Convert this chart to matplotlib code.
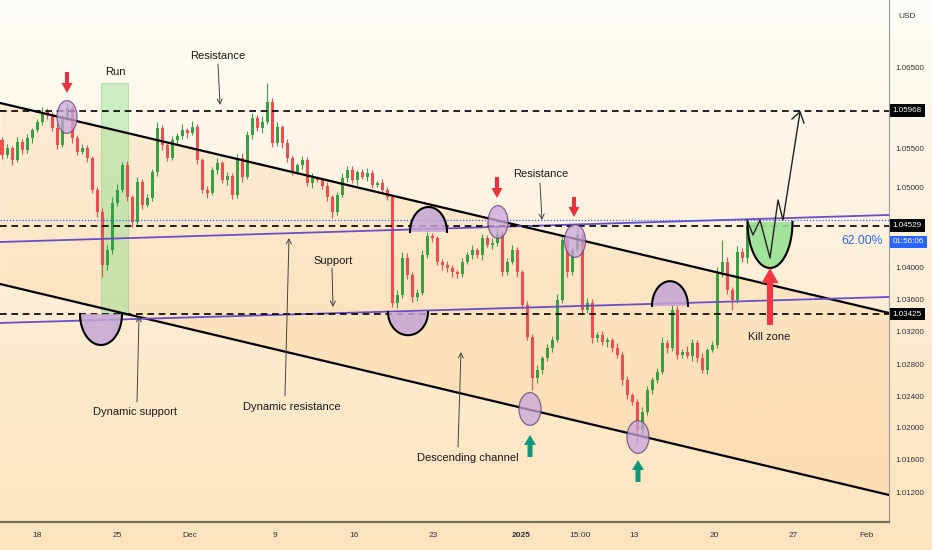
import numpy as np
import matplotlib
matplotlib.use('Agg')
import matplotlib.pyplot as plt
from matplotlib.patches import Rectangle, Ellipse, Polygon
from matplotlib.colors import LinearSegmentedColormap

plt.rcParams['font.family'] = ['Liberation Sans', 'DejaVu Sans']

# ---------------- data ----------------
open0 = 1.0560
closes = [
    1.05413, 1.0550, 1.0535, 1.05575, 1.05475, 1.05625, 1.05725, 1.05825, 1.0595, 1.05913,
    1.0575, 1.05538, 1.05875, 1.0600, 1.05625, 1.0545, 1.0550, 1.05375, 1.04975, 1.0470,
    1.04038, 1.04225, 1.04813, 1.04975, 1.05288, 1.04888, 1.04575, 1.05075, 1.04788, 1.04875,
    1.0520, 1.0575, 1.05538, 1.05375, 1.0560, 1.0565, 1.05725, 1.05688, 1.05763, 1.0535,
    1.04975, 1.04938, 1.05225, 1.05313, 1.0510, 1.0515, 1.04913, 1.05375, 1.05138, 1.05663,
    1.05875, 1.0575, 1.05825, 1.06075, 1.05563, 1.05763, 1.05563, 1.05375, 1.0520, 1.05288,
    1.0535, 1.05063, 1.05125, 1.0510, 1.05025, 1.04888, 1.0470, 1.04913, 1.05125, 1.05225,
    1.0510, 1.0520, 1.05138, 1.05188, 1.05038, 1.05063, 1.04975, 1.04888, 1.03563, 1.03663,
    1.04125, 1.03913, 1.03638, 1.03688, 1.04163, 1.0440, 1.04375, 1.04075, 1.04038, 1.0400,
    1.0395, 1.03925, 1.04075, 1.04163, 1.04225, 1.04163, 1.04375, 1.04288, 1.04313, 1.04425,
    1.0395, 1.04075, 1.04225, 1.0395, 1.03538, 1.03138, 1.02625, 1.02725, 1.02875, 1.0300,
    1.0310, 1.0360, 1.0435, 1.0395, 1.04225, 1.04413, 1.03475, 1.03563, 1.03125, 1.03163,
    1.03075, 1.0310, 1.0300, 1.02913, 1.0260, 1.02413, 1.02325, 1.01975, 1.0220, 1.02475,
    1.0260, 1.0270, 1.03063, 1.0300, 1.03475, 1.02913, 1.0295, 1.0290, 1.03063, 1.02875,
    1.02725, 1.02975, 1.03038, 1.0395, 1.04075, 1.03725, 1.0360, 1.0420, 1.04125, 1.04529,
]
# wick lengths in pips above / below the body
up_wick = [
    4, 5, 3, 6, 4, 5, 3, 4, 6, 5,
    4, 6, 5, 6, 3, 4, 5, 4, 3, 4,
    5, 6, 8, 7, 4, 5, 3, 6, 4, 5,
    4, 7, 4, 3, 5, 4, 8, 3, 7, 4,
    3, 5, 4, 6, 3, 5, 4, 5, 6, 5,
    6, 4, 7, 24, 5, 6, 3, 5, 4, 3,
    5, 4, 6, 3, 4, 5, 3, 4, 6, 5,
    5, 3, 4, 6, 4, 3, 5, 4, 3, 6,
    7, 6, 4, 5, 6, 5, 4, 3, 4, 5,
    4, 3, 5, 4, 6, 3, 5, 4, 6, 11,
    4, 5, 6, 4, 3, 5, 4, 6, 3, 5,
    5, 7, 6, 5, 4, 9, 4, 6, 5, 4,
    5, 4, 3, 6, 4, 5, 3, 4, 6, 5,
    4, 5, 8, 4, 6, 5, 4, 8, 5, 4,
    6, 3, 5, 6, 27, 6, 4, 8, 5, 4,
]
dn_wick = [
    5, 4, 6, 3, 5, 4, 6, 3, 4, 5,
    4, 5, 3, 4, 6, 4, 3, 5, 4, 6,
    15, 6, 5, 4, 3, 5, 6, 4, 5, 3,
    4, 5, 6, 4, 3, 5, 4, 6, 3, 5,
    4, 6, 3, 5, 4, 6, 5, 4, 6, 3,
    5, 4, 6, 3, 5, 4, 6, 5, 4, 3,
    5, 4, 6, 3, 4, 5, 8, 4, 3, 5,
    4, 6, 3, 5, 4, 3, 5, 4, 5, 6,
    4, 5, 6, 5, 3, 4, 5, 4, 6, 5,
    6, 5, 4, 3, 5, 4, 6, 3, 5, 4,
    5, 4, 3, 6, 5, 4, 15, 6, 5, 4,
    5, 3, 4, 6, 4, 3, 5, 4, 6, 5,
    4, 6, 5, 4, 6, 5, 4, 16, 5, 4,
    5, 4, 3, 6, 4, 5, 4, 3, 6, 5,
    4, 5, 3, 4, 6, 5, 12, 4, 5, 6,
]
x_tick_pos = [7.0, 23.0, 37.6, 54.6, 70.4, 86.2, 103.8, 115.6, 126.4, 142.4, 158.2, 173.0]
x_tick_labels = ['18', '25', 'Dec', '9', '16', '23', '2025', '15:00', '13', '20', '27', 'Feb']
y_ticks = [1.065, 1.055, 1.050, 1.040, 1.036, 1.032, 1.028, 1.024, 1.020, 1.016, 1.012]
level_high = 1.05968
level_mid = 1.04529
level_low = 1.03425
pct_text = '62.00%'
timer_text = '01:56:06'

# ---------------- figure / background ----------------
W, H = 932, 550
fig = plt.figure(figsize=(W / 100, H / 100), dpi=100)
bg = fig.add_axes([0, 0, 1, 1])
grad_cmap = LinearSegmentedColormap.from_list('bg', ['#fffdf8', '#fef4e4', '#fdeacd', '#fde4bf'])
bg.imshow(np.linspace(0, 1, 256).reshape(-1, 1), aspect='auto', cmap=grad_cmap,
          extent=[0, 1, 0, 1])
bg.set_axis_off()

ax = fig.add_axes([0, 28 / H, 889 / W, 522 / H])
ax.set_facecolor('none')
XMIN, XMAX = -0.4, 177.4
ax.set_xlim(XMIN, XMAX)
ax.set_ylim(1.00825, 1.0735)

# ---------------- channel ----------------
up_line = [1.06063, 1.03438]
lo_line = [1.03800, 1.01163]
ax.fill_between([XMIN, XMAX], lo_line, up_line, color='#f6a53c', alpha=0.13, lw=0, zorder=1)
ax.plot([XMIN, XMAX], up_line, color='black', lw=1.6, zorder=4)
ax.plot([XMIN, XMAX], lo_line, color='black', lw=1.6, zorder=4)

# purple dynamic lines
purple = '#6a4ec6'
ax.plot([XMIN, XMAX], [1.04325, 1.04663], color=purple, lw=1.3, zorder=4)
ax.plot([XMIN, XMAX], [1.03313, 1.03638], color=purple, lw=1.3, zorder=4)

# horizontal levels
dash = (0, (4, 2.8))
for lv in (level_high, level_mid, level_low):
    ax.axhline(lv, color='black', lw=1.2, ls=dash, zorder=4)
ax.axhline(1.04594, color='#2962ff', lw=0.9, ls=(0, (1, 1.5)), zorder=4)

# Run rectangle
ax.add_patch(Rectangle((19.8, 1.03413), 5.4, 0.029, facecolor='#8fe08f', alpha=0.45,
                       edgecolor='#6fcf6f', lw=0.8, zorder=2))

# ---------------- candles ----------------
opens = [open0] + closes[:-1]
idx = np.arange(len(closes))
o = np.array(opens)
c = np.array(closes)
hi = np.maximum(o, c) + np.array(up_wick) * 0.0001
lo = np.minimum(o, c) - np.array(dn_wick) * 0.0001
green, red = '#38a044', '#ef4d4f'
cols = [green if cc >= oo else red for oo, cc in zip(o, c)]
ax.vlines(idx, lo, hi, colors=cols, lw=0.8, zorder=3)
ax.bar(idx, np.maximum(np.abs(c - o), 0.00005), bottom=np.minimum(o, c), width=0.6,
       color=cols, lw=0, zorder=3)


# ---------------- shapes ----------------
def half_ellipse(cx, base, rx, ry, up, fc, alpha=0.85, edge='black'):
    t = np.linspace(0, np.pi, 80)
    s = 1 if up else -1
    xs = cx + rx * np.cos(t)
    ys = base + s * ry * np.sin(t)
    ax.add_patch(Polygon(np.column_stack([xs, ys]), closed=True, facecolor=fc,
                         alpha=alpha, lw=0, zorder=5))
    ax.plot(xs, ys, color=edge, lw=1.5, zorder=6)


semi_fc = '#c3a5d6'
half_ellipse(19.8, 1.03425, 4.2, 0.003875, False, semi_fc)
half_ellipse(81.2, 1.03450, 4.0, 0.0029, False, semi_fc)
half_ellipse(85.3, 1.04450, 3.7, 0.003125, True, semi_fc)
half_ellipse(133.6, 1.03525, 3.6, 0.0031, True, semi_fc)
half_ellipse(153.6, 1.04575, 4.5, 0.00575, False, '#98e294', alpha=0.9)

for (cx, cy, w) in [(13, 1.05888, 4.0), (99.2, 1.04575, 4.0), (114.6, 1.04338, 4.2),
                    (105.6, 1.02238, 4.4), (127.2, 1.01888, 4.4)]:
    ax.add_patch(Ellipse((cx, cy), w, 0.0041, facecolor='#c9a6dc', alpha=0.75,
                         edgecolor='#5c3f73', lw=0.9, zorder=5))


def block_arrow(cx, tail, tip, head_len, head_hw, shaft_hw, color):
    d = np.sign(tip - tail)
    neck = tip - d * head_len
    pts = [(cx - shaft_hw, tail), (cx - shaft_hw, neck), (cx - head_hw, neck), (cx, tip),
           (cx + head_hw, neck), (cx + shaft_hw, neck), (cx + shaft_hw, tail)]
    ax.add_patch(Polygon(pts, closed=True, facecolor=color, lw=0, zorder=7))


red_arrow = '#e8323f'
teal_arrow = '#11967a'
block_arrow(13, 1.0645, 1.06188, 0.00125, 1.1, 0.4, red_arrow)
block_arrow(99, 1.05138, 1.04875, 0.00125, 1.1, 0.4, red_arrow)
block_arrow(114.4, 1.04888, 1.04638, 0.00125, 1.1, 0.4, red_arrow)
block_arrow(153.6, 1.03288, 1.0400, 0.0019, 1.7, 0.6, '#f23645')
block_arrow(105.6, 1.01638, 1.01913, 0.00125, 1.2, 0.5, teal_arrow)
block_arrow(127.2, 1.01325, 1.0160, 0.00125, 1.2, 0.5, teal_arrow)

# projected zigzag path
zx = [149, 150.2, 151.6, 153.6, 155.2, 156.2, 159.6]
zy = [1.0460, 1.04413, 1.0460, 1.04125, 1.0485, 1.0460, 1.0595]
ax.plot(zx, zy, color='#222222', lw=1.0, zorder=8)
ax.plot([158.0, 159.6, 160.4], [1.05863, 1.0595, 1.05813], color='#222222', lw=1.0, zorder=8)

# ---------------- texts ----------------
tkw = dict(fontsize=8, color='#1a1a1a', ha='center', va='center', zorder=9)
akw = dict(arrowstyle='->,head_length=0.35,head_width=0.18', color='#444444', lw=0.7,
           shrinkA=0, shrinkB=0)


def label(txt, x, y, arrow_from=None, arrow_to=None):
    ax.text(x, y, txt, **tkw)
    if arrow_from is not None:
        ax.annotate('', xy=arrow_to, xytext=arrow_from, arrowprops=akw, zorder=9)


label('Resistance', 43.2, 1.0665, (43.2, 1.0655), (43.6, 1.06038))
label('Run', 22.6, 1.0645)
label('Resistance', 107.8, 1.05175, (107.6, 1.05063), (108.0, 1.0460))
label('Support', 66.2, 1.04088, (66.0, 1.0400), (66.2, 1.03513))
label('Dynamic support', 26.6, 1.0220, (27.0, 1.02325), (27.4, 1.0340))
label('Dynamic resistance', 58.0, 1.02263, (56.6, 1.0240), (57.4, 1.04375))
label('Descending channel', 93.2, 1.01625, (91.2, 1.01763), (91.8, 1.0295))
label('Kill zone', 153.4, 1.03138)
ax.text(176.2, 1.04338, pct_text, fontsize=8.8, color='#2d6be0', ha='right', va='center',
        zorder=9)

# ---------------- axes styling ----------------
for s in ('top', 'left'):
    ax.spines[s].set_visible(False)
ax.spines['right'].set_color('#9a9a9a')
ax.spines['right'].set_linewidth(0.8)
ax.spines['bottom'].set_color('#6d7561')
ax.spines['bottom'].set_linewidth(1.6)

ax.yaxis.tick_right()
ax.set_yticks(y_ticks)
ax.set_yticklabels([f'{v:.5f}' for v in y_ticks])
ax.tick_params(axis='y', length=0, pad=4.5, labelsize=5.8, labelcolor='#333333')
ax.set_xticks(x_tick_pos)
ax.set_xticklabels(x_tick_labels)
ax.tick_params(axis='x', length=0, pad=7, labelsize=6, labelcolor='#333333')
ax.get_xticklabels()[6].set_fontweight('bold')

ytr = ax.get_yaxis_transform()
for lv, txt, fc in [(level_high, f'{level_high:.5f}', 'black'),
                    (level_mid, f'{level_mid:.5f}', 'black'),
                    (level_low, f'{level_low:.5f}', 'black'),
                    (1.04325, timer_text, '#2962ff')]:
    ax.text(1.004, lv, txt, transform=ytr, ha='left', va='center', color='white', fontsize=5.8,
            bbox=dict(boxstyle='square,pad=0.35', fc=fc, ec='none'), zorder=10, clip_on=False)

fig.text(907 / W, 1 - 16 / H, 'USD', fontsize=6, color='#333333', ha='center', va='center')

fig.savefig('out.png', dpi=100)
